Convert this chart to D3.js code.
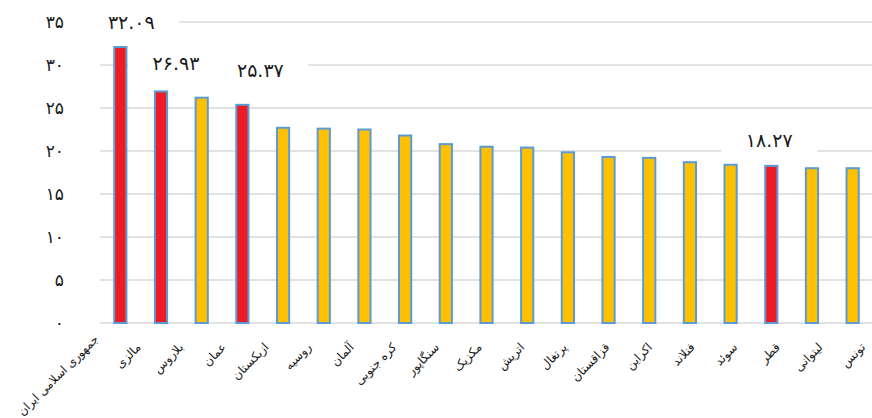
<!DOCTYPE html>
<html lang="fa">
<head>
    <meta charset="UTF-8">
    <title>Bar chart</title>
    <style>
        body { margin: 0; background: #fff; }
        svg text { font-family: "DejaVu Sans", sans-serif; fill: #1a1a1a; }
    </style>
</head>
<body>
    <div id="chart"></div>

    <script src="https://cdnjs.cloudflare.com/ajax/libs/d3/7.8.5/d3.min.js"></script>
    <script>
        // Data
        const countries = ["جمهوری اسلامی ایران", "مالزی", "بلاروس", "عمان", "ازبکستان", "روسیه", "آلمان",
            "کره جنوبی", "سنگاپور", "مکزیک", "اتریش", "پرتغال", "قزاقستان", "اکراین", "فنلاند",
            "سوئد", "قطر", "لیتوانی", "تونس"];
        const values = [32.09, 26.93, 26.2, 25.37, 22.7, 22.6, 22.5, 21.8, 20.8, 20.5, 20.4, 19.85,
            19.3, 19.2, 18.7, 18.4, 18.27, 18.0, 18.0];
        const highlighted = ["جمهوری اسلامی ایران", "مالزی", "عمان", "قطر"];
        const labelText = ["۳۲.۰۹", "۲۶.۹۳", "", "۲۵.۳۷", "", "", "", "", "", "", "", "", "", "", "", "", "۱۸.۲۷", "", ""];
        const yTicks = [0, 5, 10, 15, 20, 25, 30, 35];
        const yTickLabels = ["۰", "۵", "۱۰", "۱۵", "۲۰", "۲۵", "۳۰", "۳۵"];

        const width = 872;
        const height = 418;

        // label nudges (layout only)
        const labelNudge = { 0: [11, -25], 1: [15, -28], 3: [18, -34], 16: [-2, -26] };

        const data = countries.map((c, i) => ({ name: c, value: values[i], label: labelText[i], i: i }));

        const svg = d3.select("#chart").append("svg")
            .attr("width", width)
            .attr("height", height);

        const x = d3.scaleBand()
            .domain(countries)
            .range([100, 873])
            .paddingInner(0.7)
            .paddingOuter(0.35);

        // category labels sit on a slightly wider spread than the bars
        const xLabel = d3.scalePoint()
            .domain(countries)
            .range([99, 866]);

        const y = d3.scaleLinear()
            .domain([0, 35])
            .range([323, 22]);

        // grid lines
        svg.append("g")
            .selectAll("line")
            .data(yTicks)
            .enter().append("line")
            .attr("x1", 100)
            .attr("x2", 872)
            .attr("y1", d => y(d))
            .attr("y2", d => y(d))
            .attr("stroke", "#d9d9d9")
            .attr("stroke-width", 1.5);

        // y tick labels
        svg.append("g")
            .selectAll("text")
            .data(yTicks)
            .enter().append("text")
            .attr("x", 64)
            .attr("y", d => y(d))
            .attr("dy", "0.35em")
            .attr("text-anchor", "end")
            .style("font-size", "17px")
            .text((d, i) => yTickLabels[i]);

        // bars
        svg.append("g")
            .selectAll("rect")
            .data(data)
            .enter().append("rect")
            .attr("x", d => x(d.name))
            .attr("y", d => y(d.value))
            .attr("width", x.bandwidth())
            .attr("height", d => y(0) - y(d.value))
            .attr("fill", d => highlighted.includes(d.name) ? "#ed1c24" : "#ffc000")
            .attr("stroke", "#5b9bd5")
            .attr("stroke-width", 2);

        // category labels, rotated
        svg.append("g")
            .selectAll("text")
            .data(data)
            .enter().append("text")
            .attr("text-anchor", "end")
            .attr("transform", d => `translate(${xLabel(d.name)},${d.i === 0 ? 340 : 348}) rotate(-45)`)
            .style("font-size", "12px")
            .text(d => d.name)
            .each(function () {
                // long labels are squeezed so they stay inside the picture
                if (this.getComputedTextLength() > 108) {
                    d3.select(this).attr("textLength", 108).attr("lengthAdjust", "spacingAndGlyphs");
                }
            });

        // value labels with white boxes
        const labels = svg.append("g")
            .selectAll("g")
            .data(data.filter(d => d.label))
            .enter().append("g")
            .attr("transform", d => {
                const n = labelNudge[d.i] || [0, -28];
                return `translate(${x(d.name) + x.bandwidth() / 2 + n[0]},${y(d.value) + n[1]})`;
            });

        labels.append("rect")
            .attr("x", -48)
            .attr("y", -15)
            .attr("width", 96)
            .attr("height", 30)
            .attr("fill", "#fff");

        labels.append("text")
            .attr("text-anchor", "middle")
            .attr("dy", "0.35em")
            .style("font-size", "19px")
            .text(d => d.label);
    </script>
</body>
</html>
